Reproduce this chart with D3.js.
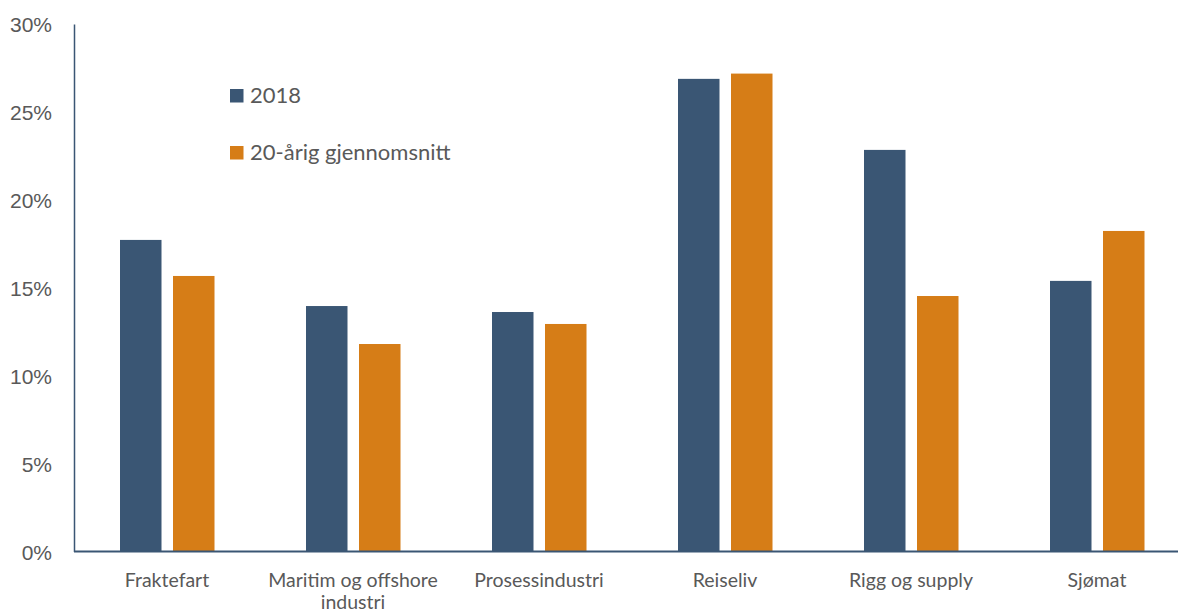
<!DOCTYPE html>
<html>
<head>
<meta charset="utf-8">
<script src="https://cdn.jsdelivr.net/npm/d3@7"></script>
<style>
  html, body { margin: 0; padding: 0; background: #fff; }
  svg { display: block; font-family: Lato, "Open Sans", sans-serif; }
</style>
</head>
<body>
<svg id="chart" width="1178" height="612"></svg>
<script>
// Industry categories (line breaks marked with \n)
const categories = ["Fraktefart", "Maritim og offshore\nindustri", "Prosessindustri", "Reiseliv", "Rigg og supply", "Sjømat"];
// Share in 2018
const values2018 = [0.1772, 0.1396, 0.1362, 0.2688, 0.2284, 0.1539];
// 20-year average
const values20yr = [0.1567, 0.1180, 0.1294, 0.2718, 0.1453, 0.1823];
const seriesNames = ["2018", "20-årig gjennomsnitt"];
const yTicks = [0, 0.05, 0.10, 0.15, 0.20, 0.25, 0.30];

const colors = ["#3A5674", "#D67D17"];
const textColor = "#595959";

const svg = d3.select("#chart");
const W = 1178;
const x0 = 74, yBase = 551.5, yTop = 24;

const x = d3.scaleBand().domain(categories).range([x0, x0 + 186 * 6]);
const y = d3.scaleLinear().domain([0, 0.30]).range([yBase, yTop]);
// Two bars per category, grouped around the band centre
const xs = d3.scaleBand().domain(seriesNames).range([46, 140.5]).paddingInner(0.217).paddingOuter(0);

const series = [values2018, values20yr];

// Bars
series.forEach((vals, si) => {
  svg.append("g").selectAll("rect")
    .data(categories.map((c, i) => ({ c, v: vals[i] })))
    .join("rect")
    .attr("x", d => x(d.c) + xs(seriesNames[si]))
    .attr("width", xs.bandwidth())
    .attr("y", d => y(d.v))
    .attr("height", d => yBase - y(d.v))
    .attr("fill", colors[si]);
});

// Y axis
const yAxis = svg.append("g")
  .attr("transform", `translate(${x0},0)`)
  .call(d3.axisLeft(y).tickValues(yTicks).tickFormat(d3.format(".0%")).tickSize(0).tickPadding(22));
yAxis.select(".domain").attr("stroke", colors[0]).attr("stroke-width", 1.5);
yAxis.selectAll("text").attr("fill", textColor).style("font-size", "21px").attr("dy", "0.36em");

// X axis line
svg.append("line")
  .attr("x1", x0).attr("x2", W)
  .attr("y1", yBase).attr("y2", yBase)
  .attr("stroke", colors[0]).attr("stroke-width", 2);

// Category labels
const xl = svg.append("g");
categories.forEach(c => {
  const lines = c.split("\n");
  const cx = x(c) + x.bandwidth() / 2;
  const t = xl.append("text")
    .attr("x", cx)
    .attr("y", 587)
    .attr("text-anchor", "middle")
    .attr("fill", textColor)
    .style("font-size", "19.5px");
  lines.forEach((l, i) => {
    t.append("tspan").attr("x", cx).attr("dy", i === 0 ? 0 : 21.5).text(l);
  });
});

// Legend
const legend = svg.append("g");
seriesNames.forEach((n, i) => {
  const gy = 89 + i * 57;
  legend.append("rect").attr("x", 230).attr("y", gy).attr("width", 13.5).attr("height", 13.5).attr("fill", colors[i]);
  legend.append("text").attr("x", 250).attr("y", gy + 14).attr("fill", textColor)
    .style("font-size", "22px").text(n);
});
</script>
</body>
</html>
